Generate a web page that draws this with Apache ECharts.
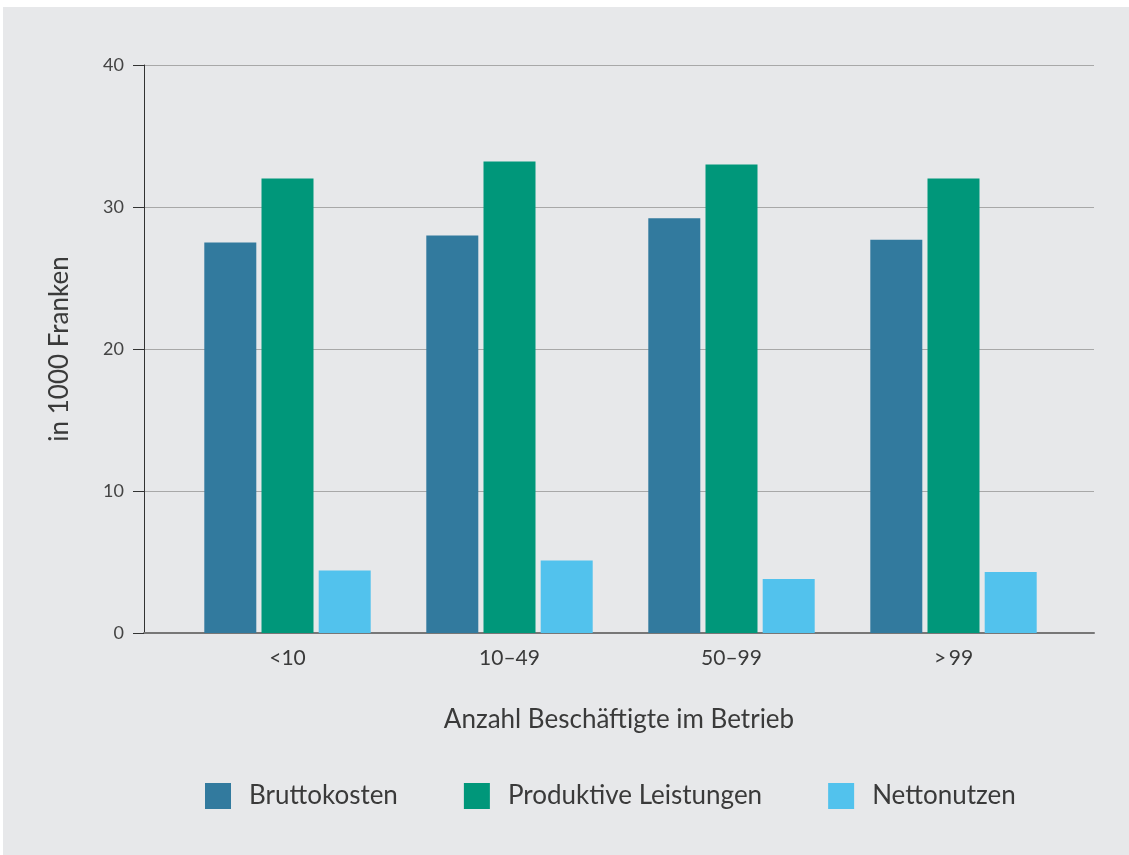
<!DOCTYPE html>
<html>
<head>
<meta charset="utf-8">
<script src="https://cdn.jsdelivr.net/npm/echarts@6/dist/echarts.min.js"></script>
<style>
  html, body { margin: 0; padding: 0; background: #ffffff; }
  #chart { width: 1129px; height: 855px; }
</style>
</head>
<body>
<div id="chart"></div>
<script>
// Company size classes (employees per firm)
const categories = ['<10', '10\u201349', '50\u201399', '>\u200999'];

// Values in 1000 francs
const bruttokosten = [27.5, 28.0, 29.2, 27.7];
const produktiveLeistungen = [32.0, 33.2, 33.0, 32.0];
const nettonutzen = [4.4, 5.1, 3.8, 4.3];

const seriesNames = ['Bruttokosten', 'Produktive Leistungen', 'Nettonutzen'];
const seriesColors = ['#327a9e', '#00977a', '#52c2ed'];

const yTicks = { min: 0, max: 40, interval: 10 };

const font = 'Lato, "Source Sans Pro", "Noto Sans", sans-serif';
const textColor = '#3a3a3a';

const chart = echarts.init(document.getElementById('chart'), null, { renderer: 'canvas' });

const plotTop = 65, plotHeight = 568;

chart.setOption({
  backgroundColor: '#ffffff',
  animation: false,
  textStyle: { fontFamily: font },
  graphic: [{
    type: 'rect',
    z: -10,
    silent: true,
    shape: { x: 3, y: 7, width: 1126, height: 848 },
    style: { fill: '#e7e8ea' }
  }],
  grid: [
    // frame grid: axis lines, gridlines, ticks, titles
    { left: 144, top: plotTop, width: 950, height: plotHeight },
    // bar grid: categories inset from the frame
    { left: 176.5, top: plotTop, width: 888, height: plotHeight }
  ],
  legend: {
    left: 205,
    top: 783,
    padding: 0,
    itemWidth: 26,
    itemHeight: 26,
    itemGap: 66,
    icon: 'rect',
    data: seriesNames,
    textStyle: { fontSize: 26, color: textColor, fontFamily: font, padding: [0, 0, 0, 13] }
  },
  xAxis: [
    {
      gridIndex: 0,
      type: 'category',
      data: [''],
      name: 'Anzahl Besch\u00e4ftigte im Betrieb',
      nameLocation: 'middle',
      nameGap: 74,
      nameTextStyle: { fontSize: 26, color: textColor, fontFamily: font },
      axisLine: { show: true, lineStyle: { color: '#777777', width: 2 } },
      axisTick: { show: false },
      axisLabel: { show: false },
      splitLine: { show: false }
    },
    {
      gridIndex: 1,
      type: 'category',
      data: categories,
      axisLine: { show: false },
      axisTick: { show: false },
      axisLabel: { fontSize: 21, color: textColor, margin: 15, fontFamily: font },
      splitLine: { show: false }
    }
  ],
  yAxis: [
    {
      gridIndex: 0,
      type: 'value',
      min: yTicks.min,
      max: yTicks.max,
      interval: yTicks.interval,
      name: 'in 1000 Franken',
      nameLocation: 'middle',
      nameGap: 71,
      nameRotate: 90,
      nameTextStyle: { fontSize: 26, color: textColor, fontFamily: font },
      axisLine: { show: true, lineStyle: { color: '#333333', width: 1 } },
      axisTick: { show: true, length: 11, lineStyle: { color: '#333333' } },
      axisLabel: { fontSize: 18, color: '#444444', margin: 20, fontFamily: font },
      splitLine: { show: true, lineStyle: { color: '#a8a8a8', width: 1 } }
    },
    {
      gridIndex: 1,
      type: 'value',
      min: yTicks.min,
      max: yTicks.max,
      interval: yTicks.interval,
      show: false,
      splitLine: { show: false }
    }
  ],
  series: [
    { name: seriesNames[0], data: bruttokosten },
    { name: seriesNames[1], data: produktiveLeistungen },
    { name: seriesNames[2], data: nettonutzen }
  ].map((s, i) => ({
    name: s.name,
    type: 'bar',
    xAxisIndex: 1,
    yAxisIndex: 1,
    data: s.data,
    barWidth: 52,
    barGap: '10%',
    itemStyle: { color: seriesColors[i] },
    z: 3
  }))
});
</script>
</body>
</html>
